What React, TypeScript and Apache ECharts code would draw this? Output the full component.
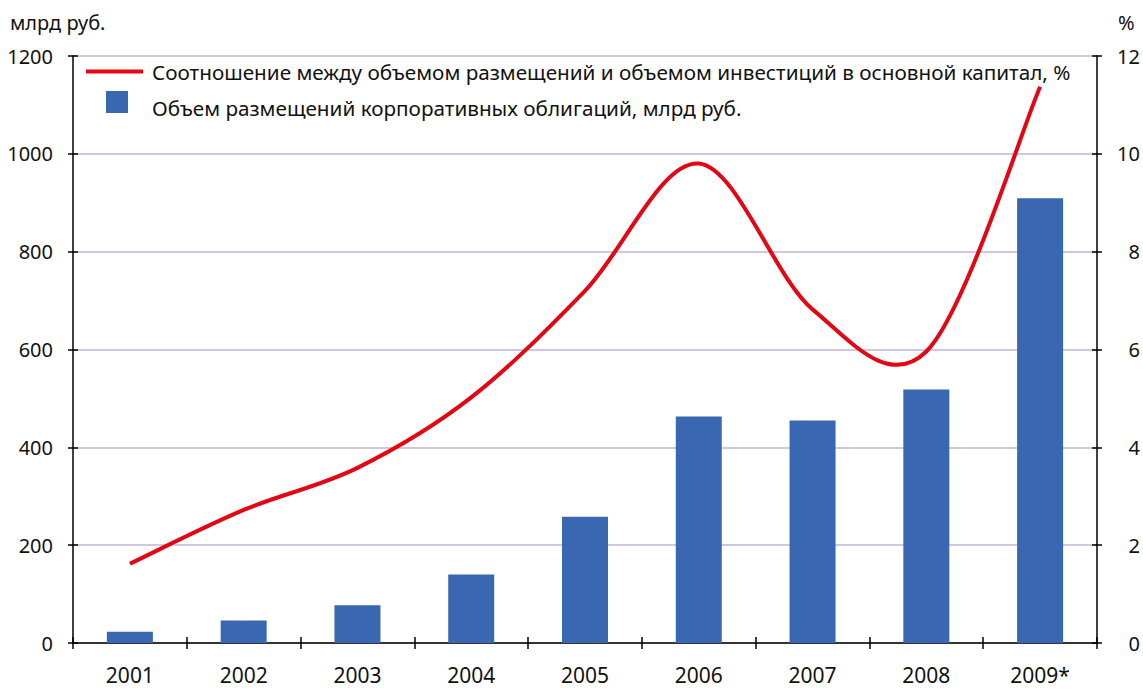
import React, { useEffect, useRef } from "react";
import * as echarts from "echarts";

const years = ["2001", "2002", "2003", "2004", "2005", "2006", "2007", "2008", "2009*"];
const bondVolume = [23, 46, 77, 140, 258, 463, 455, 518, 909];
const ratioPct = [1.62, 2.72, 3.58, 5.02, 7.2, 9.8, 6.82, 5.96, 11.37];
const lineName = "Соотношение между объемом размещений и объемом инвестиций в основной капитал, %";
const barName = "Объем размещений корпоративных облигаций, млрд руб.";
const leftUnit = "млрд руб.";
const rightUnit = "%";

const FONT = "Noto Sans";
const RED = "#e30613";

export default function App() {
  const ref = useRef<HTMLDivElement>(null);
  useEffect(() => {
    if (!ref.current) return;
    const chart = echarts.init(ref.current, undefined, { renderer: "svg" });
    const gridPos = { left: 73, right: 46, top: 56, bottom: 48 };
    const tickStyle = { color: "#000", width: 1.5 };

    // Smooth (Catmull-Rom style) curve through the data, positioned via the axes.
    const renderCurve = (params: any, api: any) => {
      if (params.dataIndex !== 0) return null;
      const pts = ratioPct.map((v, i) => api.coord([i, v]));
      const n = pts.length;
      let d = `M${pts[0][0]},${pts[0][1]}`;
      for (let i = 0; i < n - 1; i++) {
        const p0 = pts[Math.max(i - 1, 0)];
        const p1 = pts[i];
        const p2 = pts[i + 1];
        const p3 = pts[Math.min(i + 2, n - 1)];
        const c1x = p1[0] + (p2[0] - p0[0]) / 6;
        const c1y = p1[1] + (p2[1] - p0[1]) / 6;
        const c2x = p2[0] - (p3[0] - p1[0]) / 6;
        const c2y = p2[1] - (p3[1] - p1[1]) / 6;
        d += ` C${c1x},${c1y} ${c2x},${c2y} ${p2[0]},${p2[1]}`;
      }
      return {
        type: "path",
        shape: { pathData: d },
        style: { fill: "none", stroke: RED, lineWidth: 4, lineJoin: "round", lineCap: "butt" },
      };
    };

    chart.setOption({
      animation: false,
      textStyle: { fontFamily: FONT },
      grid: [
        { ...gridPos, containLabel: false },
        { ...gridPos, containLabel: false },
      ],
      legend: [
        {
          data: [{ name: lineName, icon: "rect" }],
          left: 86,
          top: 61,
          padding: 0,
          itemWidth: 57,
          itemHeight: 4,
          itemStyle: { color: RED },
          textStyle: { fontSize: 20.7, color: "#111", fontFamily: FONT, padding: [0, 0, 0, 4] },
        },
        {
          data: [{ name: barName, icon: "path://M0,0H22V22H0ZM0,34" }],
          left: 106,
          top: 91,
          padding: 0,
          itemWidth: 22,
          itemHeight: 34,
          textStyle: { fontSize: 20.7, color: "#111", fontFamily: FONT, padding: [0, 0, 0, 19] },
        },
      ],
      xAxis: [
        {
          type: "category",
          data: years,
          gridIndex: 0,
          boundaryGap: true,
          axisLine: { lineStyle: { color: "#000", width: 1.5 } },
          axisTick: { show: true, length: 6, lineStyle: tickStyle },
          axisLabel: { color: "#111", fontSize: 21, margin: 21, fontFamily: FONT },
          splitLine: { show: false },
        },
        {
          type: "category",
          data: years,
          gridIndex: 1,
          boundaryGap: true,
          axisLine: { show: false },
          axisTick: { show: true, inside: true, length: 6, lineStyle: tickStyle },
          axisLabel: { show: false },
          splitLine: { show: false },
        },
      ],
      yAxis: [
        {
          type: "value",
          gridIndex: 0,
          position: "left",
          min: 0,
          max: 1200,
          interval: 200,
          axisLine: { show: true, lineStyle: { color: "#000", width: 1.5 } },
          axisTick: { show: true, length: 5, lineStyle: tickStyle },
          axisLabel: {
            color: "#111",
            fontSize: 20,
            margin: 20,
            fontFamily: FONT,
            formatter: (v: number) => String(v),
          },
          splitLine: { show: true, lineStyle: { color: "#c6b3d6", width: 1.5 } },
        },
        {
          type: "value",
          gridIndex: 0,
          position: "right",
          min: 0,
          max: 12,
          interval: 2,
          axisLine: { show: true, lineStyle: { color: "#000", width: 1.5 } },
          axisTick: { show: true, length: 5, lineStyle: tickStyle },
          axisLabel: {
            color: "#111",
            fontSize: 20,
            margin: 43,
            align: "right",
            fontFamily: FONT,
            formatter: (v: number) => String(v),
          },
          splitLine: { show: false },
        },
        {
          type: "value",
          gridIndex: 1,
          position: "left",
          min: 0,
          max: 1200,
          interval: 200,
          axisLine: { show: false },
          axisTick: { show: true, inside: true, length: 5, lineStyle: tickStyle },
          axisLabel: { show: false },
          splitLine: { show: false },
        },
        {
          type: "value",
          gridIndex: 1,
          position: "right",
          min: 0,
          max: 12,
          interval: 2,
          axisLine: { show: false },
          axisTick: { show: true, inside: true, length: 5, lineStyle: tickStyle },
          axisLabel: { show: false },
          splitLine: { show: false },
        },
      ],
      graphic: [
        {
          type: "text",
          left: 10,
          top: 12,
          style: { text: leftUnit, fontSize: 20, fill: "#111", fontFamily: FONT },
        },
        {
          type: "text",
          left: 1118,
          top: 12,
          style: { text: rightUnit, fontSize: 20, fill: "#111", fontFamily: FONT },
        },
      ],
      series: [
        {
          name: barName,
          type: "bar",
          xAxisIndex: 0,
          yAxisIndex: 0,
          data: bondVolume,
          barWidth: 46,
          itemStyle: { color: "#3a67b1" },
          z: 2,
        },
        {
          name: lineName,
          type: "custom",
          xAxisIndex: 0,
          yAxisIndex: 1,
          data: ratioPct.map((v, i) => [i, v]),
          encode: { x: 0, y: 1 },
          renderItem: renderCurve,
          itemStyle: { color: RED },
          clip: false,
          z: 3,
        },
      ],
    });
    return () => chart.dispose();
  }, []);
  return <div ref={ref} style={{ width: 1143, height: 691, position: "absolute", left: 0, top: 0 }} />;
}
